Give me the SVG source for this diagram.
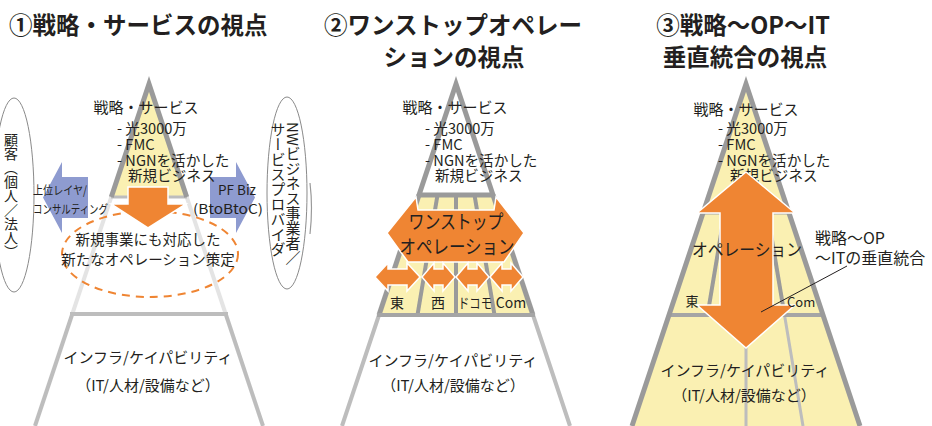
<svg xmlns="http://www.w3.org/2000/svg" width="932" height="426" viewBox="0 0 932 426">
<style>
.t{font-family:"Noto Sans CJK JP","Noto Sans",sans-serif;fill:#231f20}
.ti{font-size:23.5px;font-weight:bold}
.b{font-size:15px}
.l{font-size:14.6px}
.s{font-size:14.5px}
.v{writing-mode:vertical-rl}
.edge{stroke:#9a9a9a;stroke-width:5;fill:none}
.e2{stroke:#bdbdbd;stroke-width:4;fill:none}
.e3{stroke:#e4e4e4;stroke-width:4;fill:none}
.ray{stroke:#9a9a9a;stroke-width:4}
.yel{fill:#faf0b2}
.or{fill:#ef8533;stroke:#fff;stroke-width:1.5}
.bl{fill:#8e9bd0}
</style>
<rect width="932" height="426" fill="#fff"/>

<!-- titles -->
<g id="titles">
<text class="t ti" x="9" y="34">①戦略・サービスの視点</text>
<text class="t ti" x="453" y="34" text-anchor="middle">②ワンストップオペレー</text>
<text class="t ti" x="454" y="66" text-anchor="middle">ションの視点</text>
<text class="t ti" x="743" y="34" text-anchor="middle">③戦略～OP～IT</text>
<text class="t ti" x="745" y="66" text-anchor="middle">垂直統合の視点</text>
</g>

<!-- ===== Panel 1 ===== -->
<g id="p1-pyramid">
<polygon class="yel" points="149,84 111.3,197 186.7,197"/>
<polyline class="e3" points="111.3,197 72.3,314"/>
<polyline class="e3" points="186.7,197 225.7,314"/>
<polyline class="e2" points="72.3,314 35,426"/>
<polyline class="e2" points="225.7,314 263,426"/>
<line x1="70" y1="314" x2="228" y2="314" stroke="#bdbdbd" stroke-width="4"/>
<line x1="111" y1="197" x2="187" y2="197" stroke="#bdbdbd" stroke-width="3"/>
<polyline class="edge" points="111.3,197 149,84 186.7,197"/>
</g>
<g id="p1-customer">
<ellipse cx="14" cy="195" rx="20" ry="97" fill="#fff" stroke="#8a8a8a" stroke-width="1"/>
<text class="t v" x="11" y="133" style="font-size:14px">顧客（個人／法人）</text>
</g>
<g id="p1-provider">
<ellipse cx="287" cy="193" rx="20" ry="96" fill="#fff" stroke="#8a8a8a" stroke-width="1"/>
<text class="t v" x="293" y="122" style="font-size:15px">NWビジネス事業者／</text>
<text class="t v" x="278" y="122" style="font-size:15px">サービスプロバイダ</text>
</g>
<path d="M310,183 Q313,208 310,234" fill="none" stroke="#9a9a9a" stroke-width="1.2"/>
<g id="p1-left-arrow">
<polygon class="bl" points="43,197.5 62,162 62,177 88,177 88,218 62,218 62,233"/>
<text class="t" x="33" y="195" style="font-size:12px" textLength="54" lengthAdjust="spacingAndGlyphs">上位レイヤ/</text>
<text class="t" x="33" y="214" style="font-size:12px" textLength="75" lengthAdjust="spacingAndGlyphs">コンサルティング</text>
</g>
<g id="p1-right-arrow">
<polygon class="bl" points="255,197.5 236,162 236,177 210,177 210,218 236,218 236,233"/>
<text class="t" x="237" y="195" style="font-size:13.5px" text-anchor="middle">PF Biz</text>
<text class="t" x="228" y="214" style="font-size:13.5px" text-anchor="middle" textLength="70" lengthAdjust="spacingAndGlyphs">(BtoBtoC)</text>
</g>
<g id="p1-strategy">
<text class="t b" x="146" y="113" text-anchor="middle">戦略・サービス</text>
<text class="t l" x="117" y="134">- 光3000万</text>
<text class="t l" x="117" y="150">- FMC</text>
<text class="t l" x="117" y="166">- NGNを活かした</text>
<text class="t l" x="128" y="181">新規ビジネス</text>
</g>
<g id="p1-newop">
<ellipse cx="150" cy="254" rx="88" ry="43" fill="none" stroke="#ef8533" stroke-width="2" stroke-dasharray="8,6"/>
<text class="t s" x="148" y="245" text-anchor="middle">新規事業にも対応した</text>
<text class="t s" x="148" y="265" text-anchor="middle">新たなオペレーション策定</text>
</g>
<g id="p1-down-arrow">
<polygon class="or" points="128,187 168,187 168,204 186,204 148,228 111,204 128,204"/>
</g>
<g id="p1-infra">
<text class="t b" x="148" y="363" text-anchor="middle">インフラ/ケイパビリティ</text>
<text class="t b" x="148" y="391" text-anchor="middle">（IT/人材/設備など）</text>
</g>

<!-- ===== Panel 2 ===== -->
<g id="p2-pyramid">
<polygon points="456,84 419,195 493,195" fill="#fff"/>
<polygon class="yel" points="419,195 493,195 533,315 379,315"/>
<line class="ray" x1="437.5" y1="195" x2="417.5" y2="315"/>
<line class="ray" x1="456" y1="195" x2="456" y2="315"/>
<line class="ray" x1="474.5" y1="195" x2="494.5" y2="315"/>
<polyline class="edge" points="419,195 379,315"/>
<polyline class="edge" points="493,195 533,315"/>
<polyline class="e2" points="379,315 342,426"/>
<polyline class="e2" points="533,315 570,426"/>
<line x1="377" y1="315" x2="535" y2="315" stroke="#a5a5a5" stroke-width="4"/>
<polygon class="edge" points="456,84 419,195 493,195" stroke-linejoin="miter"/>
</g>
<g id="p2-strategy">
<text class="t b" x="455" y="113" text-anchor="middle">戦略・サービス</text>
<text class="t l" x="425" y="134">- 光3000万</text>
<text class="t l" x="425" y="150">- FMC</text>
<text class="t l" x="425" y="166">- NGNを活かした</text>
<text class="t l" x="435" y="181">新規ビジネス</text>
</g>
<g id="p2-onestop">
<polygon class="or" points="387,233 416,197 418,210 494,210 496,197 524,233 504,262 408,262"/>
<text class="t" x="456" y="229" style="font-size:19px" text-anchor="middle" textLength="95" lengthAdjust="spacingAndGlyphs">ワンストップ</text>
<text class="t" x="457" y="254" style="font-size:19px" text-anchor="middle" textLength="115" lengthAdjust="spacingAndGlyphs">オペレーション</text>
</g>
<g id="p2-small-arrows">
<polygon class="or" points="375,277 388,263 388,269 407,269 407,263 420,277 407,291 407,285 388,285 388,291"/>
<polygon class="or" points="422,277 434,263 434,269 443,269 443,263 455,277 443,291 443,285 434,285 434,291"/>
<polygon class="or" points="456,277 468,263 468,269 477,269 477,263 489,277 477,291 477,285 468,285 468,291"/>
<polygon class="or" points="490,277 502,263 502,269 511,269 511,263 523,277 511,291 511,285 502,285 502,291"/>
</g>
<g id="p2-companies">
<text class="t" x="397" y="308" style="font-size:14px" text-anchor="middle">東</text>
<text class="t" x="438" y="308" style="font-size:14px" text-anchor="middle">西</text>
<text class="t" x="475" y="308" style="font-size:14px" text-anchor="middle" textLength="34" lengthAdjust="spacingAndGlyphs">ドコモ</text>
<text class="t" x="511" y="308" style="font-size:14px" text-anchor="middle">Com</text>
</g>
<g id="p2-infra">
<text class="t b" x="453" y="366" text-anchor="middle">インフラ/ケイパビリティ</text>
<text class="t b" x="453" y="391" text-anchor="middle">（IT/人材/設備など）</text>
</g>

<!-- ===== Panel 3 ===== -->
<g id="p3-pyramid">
<polygon class="yel" points="746,84 632,426 860,426"/>
<line x1="703" y1="213" x2="789" y2="213" stroke="#a5a5a5" stroke-width="3"/>
<line class="ray" x1="724.5" y1="213" x2="707.5" y2="315"/>
<line class="ray" x1="767.5" y1="213" x2="784.5" y2="315"/>
<line x1="746" y1="315" x2="746" y2="426" stroke="#bdbdbd" stroke-width="3"/>
<line x1="784.5" y1="315" x2="803" y2="426" stroke="#bdbdbd" stroke-width="3"/>
<line x1="667" y1="315" x2="825" y2="315" stroke="#a5a5a5" stroke-width="4"/>
<polyline class="edge" points="632,426 746,84 860,426"/>
</g>
<g id="p3-strategy">
<text class="t b" x="746" y="115" text-anchor="middle">戦略・サービス</text>
<text class="t l" x="718" y="134">- 光3000万</text>
<text class="t l" x="718" y="150">- FMC</text>
<text class="t l" x="718" y="166">- NGNを活かした</text>
<text class="t l" x="730" y="181">新規ビジネス</text>
</g>
<g id="p3-vertical-arrow">
<polygon class="or" points="746,172 795,213 773,213 773,305 795,305 746,348 697,305 720,305 720,213 697,213"/>
</g>
<g id="p3-ops">
<text class="t" x="747" y="256" style="font-size:17px" text-anchor="middle" textLength="110" lengthAdjust="spacingAndGlyphs">オペレーション</text>
<text class="t" x="692" y="306" style="font-size:13px" text-anchor="middle">東</text>
<text class="t" x="787" y="307" style="font-size:13px">Com</text>
</g>
<g id="p3-note">
<text class="t" x="815" y="244" style="font-size:16px">戦略～OP</text>
<text class="t" x="815" y="264" style="font-size:16px">～ITの垂直統合</text>
</g>
<g id="connectors">
<line x1="847" y1="266" x2="761" y2="312" stroke="#231f20" stroke-width="1"/>
</g>
<g id="p3-infra">
<text class="t b" x="745" y="376" text-anchor="middle">インフラ/ケイパビリティ</text>
<text class="t b" x="744" y="401" text-anchor="middle">（IT/人材/設備など）</text>
</g>
</svg>
